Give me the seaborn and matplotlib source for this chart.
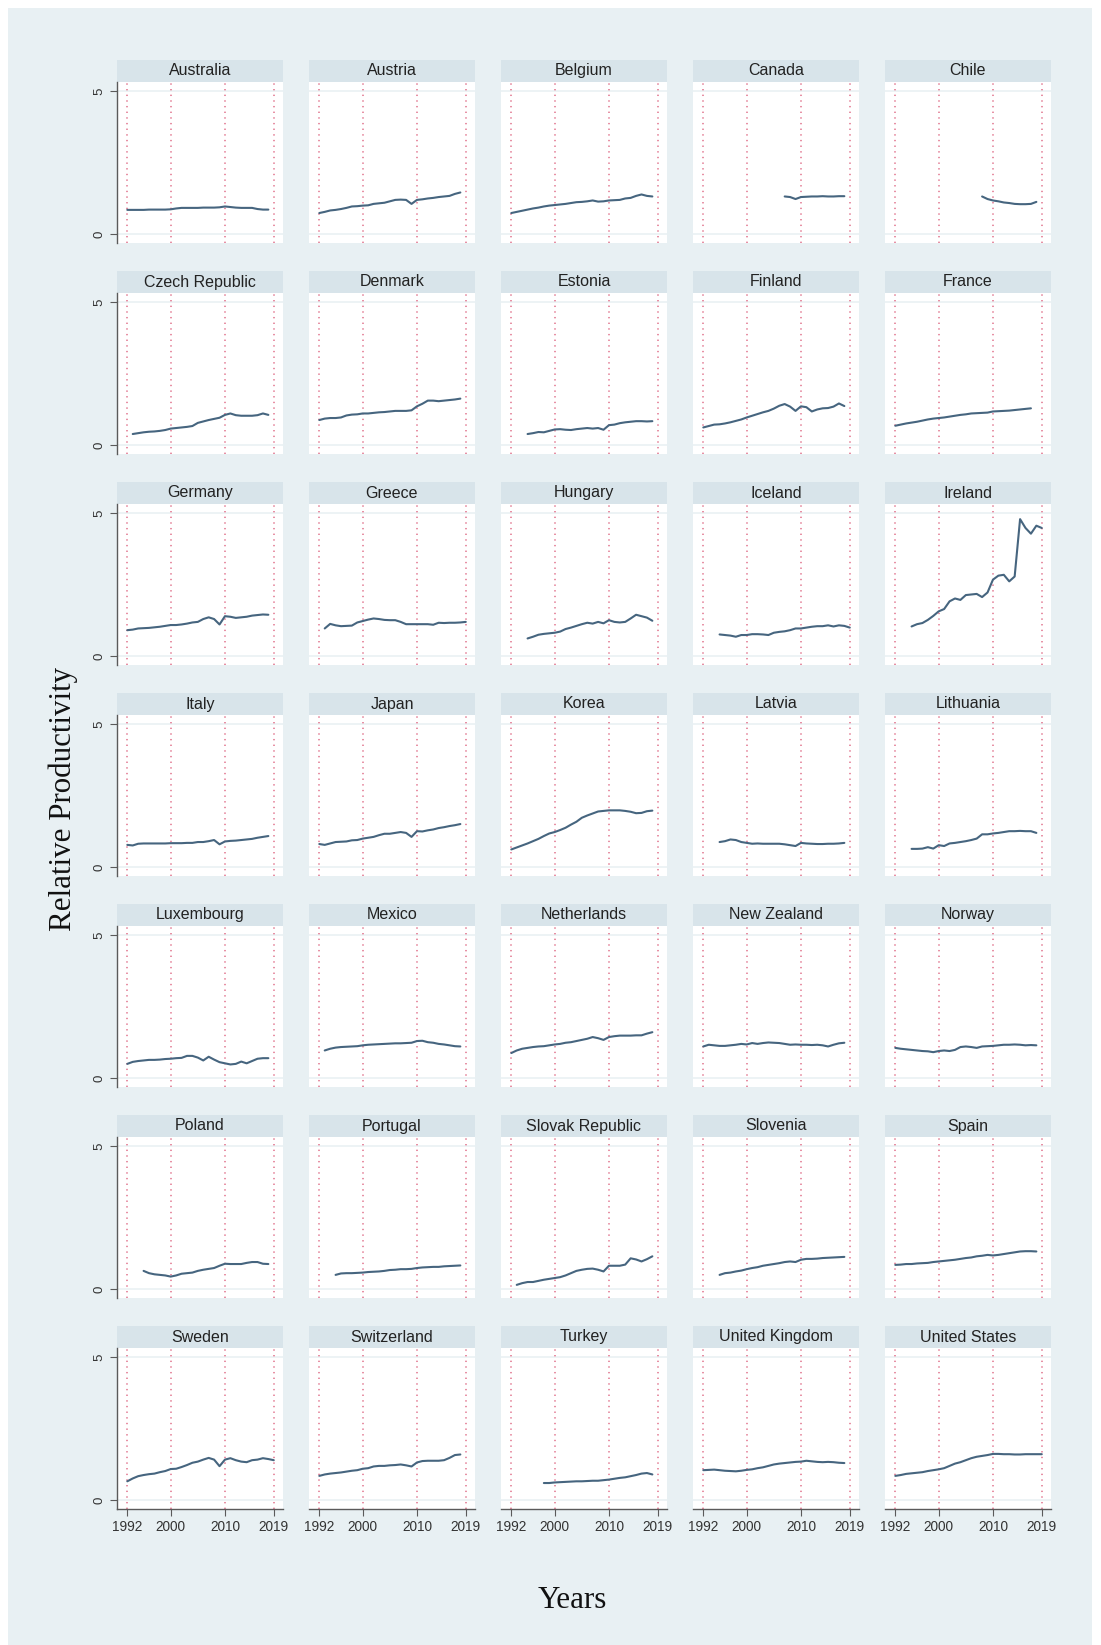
import matplotlib
matplotlib.use("Agg")
import matplotlib.pyplot as plt
from matplotlib.patches import Rectangle
import numpy as np
import pandas as pd
import seaborn as sns

# ---- data: relative productivity by country (first year, annual values) ----
COUNTRIES = ["Australia", "Austria", "Belgium", "Canada", "Chile",
             "Czech Republic", "Denmark", "Estonia", "Finland", "France",
             "Germany", "Greece", "Hungary", "Iceland", "Ireland",
             "Italy", "Japan", "Korea", "Latvia", "Lithuania",
             "Luxembourg", "Mexico", "Netherlands", "New Zealand", "Norway",
             "Poland", "Portugal", "Slovak Republic", "Slovenia", "Spain",
             "Sweden", "Switzerland", "Turkey", "United Kingdom", "United States"]

START_YEAR = [1992, 1992, 1992, 2007, 2008,
              1993, 1992, 1995, 1992, 1992,
              1992, 1993, 1995, 1995, 1995,
              1992, 1992, 1992, 1995, 1995,
              1992, 1993, 1992, 1992, 1992,
              1995, 1995, 1993, 1995, 1992,
              1992, 1992, 1998, 1992, 1992]

AUSTRALIA = [0.85, 0.85, 0.85, 0.85, 0.86, 0.86, 0.86, 0.86, 0.87, 0.90, 0.92, 0.92, 0.92, 0.92,
             0.93, 0.93, 0.93, 0.94, 0.97, 0.95, 0.93, 0.92, 0.92, 0.92, 0.88, 0.86, 0.86]
AUSTRIA = [0.74, 0.78, 0.83, 0.85, 0.88, 0.92, 0.97, 0.98, 1.00, 1.01, 1.06, 1.08, 1.10, 1.15,
           1.20, 1.21, 1.20, 1.06, 1.20, 1.22, 1.25, 1.27, 1.30, 1.32, 1.34, 1.41, 1.46]
BELGIUM = [0.74, 0.78, 0.82, 0.86, 0.90, 0.93, 0.97, 1.00, 1.02, 1.04, 1.06, 1.09, 1.12, 1.13,
           1.15, 1.18, 1.14, 1.15, 1.18, 1.19, 1.20, 1.25, 1.27, 1.34, 1.39, 1.34, 1.32]
CANADA = [1.32, 1.30, 1.23, 1.30, 1.31, 1.32, 1.32, 1.33, 1.32, 1.32, 1.33, 1.33]
CHILE = [1.32, 1.23, 1.18, 1.15, 1.11, 1.09, 1.06, 1.05, 1.05, 1.06, 1.13]
CZECH = [0.39, 0.42, 0.45, 0.47, 0.48, 0.50, 0.53, 0.58, 0.60, 0.62, 0.64, 0.67, 0.78, 0.83,
         0.88, 0.92, 0.96, 1.06, 1.11, 1.05, 1.03, 1.03, 1.03, 1.05, 1.11, 1.06]
DENMARK = [0.88, 0.93, 0.95, 0.95, 0.97, 1.04, 1.07, 1.08, 1.11, 1.11, 1.13, 1.15, 1.16, 1.18,
           1.20, 1.20, 1.20, 1.22, 1.36, 1.45, 1.56, 1.56, 1.54, 1.56, 1.58, 1.60, 1.63]
ESTONIA = [0.39, 0.42, 0.46, 0.45, 0.50, 0.55, 0.56, 0.54, 0.53, 0.56, 0.58, 0.60, 0.58, 0.60,
           0.54, 0.70, 0.72, 0.77, 0.80, 0.82, 0.84, 0.84, 0.83, 0.84]
FINLAND = [0.62, 0.67, 0.72, 0.73, 0.76, 0.80, 0.85, 0.90, 0.97, 1.03, 1.09, 1.15, 1.20, 1.28,
           1.38, 1.44, 1.35, 1.20, 1.36, 1.33, 1.18, 1.25, 1.29, 1.30, 1.35, 1.46, 1.37]
FRANCE = [0.68, 0.72, 0.76, 0.79, 0.82, 0.86, 0.90, 0.93, 0.95, 0.97, 1.00, 1.03, 1.06, 1.08,
          1.11, 1.12, 1.13, 1.14, 1.18, 1.19, 1.20, 1.21, 1.23, 1.25, 1.27, 1.29]
GERMANY = [0.91, 0.93, 0.97, 0.98, 0.99, 1.01, 1.03, 1.06, 1.09, 1.09, 1.11, 1.14, 1.18, 1.20,
           1.30, 1.36, 1.30, 1.11, 1.40, 1.38, 1.34, 1.36, 1.38, 1.42, 1.44, 1.46, 1.45]
GREECE = [0.97, 1.13, 1.08, 1.05, 1.06, 1.07, 1.18, 1.23, 1.28, 1.32, 1.30, 1.27, 1.26, 1.26,
          1.20, 1.12, 1.12, 1.12, 1.12, 1.12, 1.10, 1.17, 1.16, 1.17, 1.17, 1.18, 1.20]
HUNGARY = [0.62, 0.68, 0.75, 0.78, 0.80, 0.82, 0.86, 0.95, 1.00, 1.06, 1.12, 1.17, 1.14, 1.20,
           1.15, 1.26, 1.20, 1.18, 1.20, 1.32, 1.45, 1.40, 1.35, 1.24]
ICELAND = [0.76, 0.74, 0.72, 0.68, 0.74, 0.74, 0.77, 0.77, 0.76, 0.74, 0.82, 0.85, 0.87, 0.91,
           0.97, 0.97, 1.00, 1.03, 1.05, 1.05, 1.08, 1.04, 1.08, 1.06, 1.00]
IRELAND = [1.04, 1.12, 1.16, 1.27, 1.41, 1.57, 1.65, 1.92, 2.02, 1.97, 2.14, 2.16, 2.18, 2.07,
           2.23, 2.68, 2.82, 2.85, 2.62, 2.79, 4.80, 4.49, 4.29, 4.57, 4.49]
ITALY = [0.78, 0.76, 0.82, 0.83, 0.83, 0.83, 0.83, 0.83, 0.84, 0.84, 0.84, 0.85, 0.85, 0.88,
         0.88, 0.91, 0.95, 0.80, 0.90, 0.92, 0.93, 0.95, 0.97, 0.99, 1.03, 1.06, 1.09]
JAPAN = [0.81, 0.78, 0.83, 0.88, 0.89, 0.90, 0.94, 0.95, 1.00, 1.03, 1.06, 1.12, 1.17, 1.17,
         1.20, 1.23, 1.20, 1.06, 1.26, 1.25, 1.29, 1.32, 1.37, 1.40, 1.44, 1.47, 1.51]
KOREA = [0.62, 0.69, 0.76, 0.83, 0.91, 0.99, 1.09, 1.18, 1.23, 1.30, 1.38, 1.49, 1.59, 1.73,
         1.81, 1.88, 1.95, 1.97, 1.99, 1.99, 1.99, 1.97, 1.94, 1.89, 1.90, 1.96, 1.98]
LATVIA = [0.88, 0.91, 0.97, 0.95, 0.88, 0.85, 0.82, 0.83, 0.82, 0.82, 0.82, 0.82, 0.80, 0.77,
          0.74, 0.85, 0.83, 0.82, 0.81, 0.81, 0.82, 0.82, 0.83, 0.85]
LITHUANIA = [0.64, 0.64, 0.65, 0.70, 0.65, 0.77, 0.74, 0.83, 0.85, 0.88, 0.91, 0.95, 1.00, 1.15,
             1.15, 1.18, 1.20, 1.23, 1.26, 1.26, 1.27, 1.26, 1.26, 1.20]
LUXEMBOURG = [0.50, 0.57, 0.60, 0.62, 0.64, 0.64, 0.65, 0.67, 0.68, 0.70, 0.71, 0.78, 0.78, 0.72,
              0.62, 0.75, 0.65, 0.56, 0.52, 0.48, 0.50, 0.58, 0.52, 0.60, 0.68, 0.70, 0.70]
MEXICO = [0.97, 1.03, 1.07, 1.09, 1.10, 1.11, 1.12, 1.15, 1.17, 1.18, 1.19, 1.20, 1.21, 1.22,
          1.22, 1.23, 1.24, 1.30, 1.31, 1.26, 1.24, 1.20, 1.18, 1.15, 1.12, 1.11]
NETHERLANDS = [0.88, 0.97, 1.03, 1.06, 1.09, 1.11, 1.12, 1.15, 1.18, 1.20, 1.24, 1.26, 1.30, 1.34,
               1.38, 1.44, 1.40, 1.34, 1.44, 1.47, 1.49, 1.49, 1.49, 1.50, 1.50, 1.56, 1.61]
NEW_ZEALAND = [1.11, 1.17, 1.15, 1.13, 1.13, 1.15, 1.17, 1.20, 1.18, 1.23, 1.20, 1.23, 1.25, 1.24,
               1.23, 1.20, 1.17, 1.18, 1.17, 1.17, 1.16, 1.17, 1.15, 1.11, 1.17, 1.22, 1.24]
NORWAY = [1.06, 1.03, 1.01, 0.99, 0.97, 0.95, 0.94, 0.91, 0.95, 0.97, 0.95, 0.99, 1.09, 1.11,
          1.09, 1.06, 1.11, 1.12, 1.13, 1.15, 1.17, 1.17, 1.18, 1.17, 1.15, 1.16, 1.15]
POLAND = [0.64, 0.56, 0.52, 0.50, 0.48, 0.44, 0.48, 0.54, 0.56, 0.58, 0.64, 0.68, 0.71, 0.74,
          0.82, 0.89, 0.88, 0.88, 0.88, 0.92, 0.95, 0.95, 0.89, 0.88]
PORTUGAL = [0.50, 0.55, 0.56, 0.56, 0.57, 0.58, 0.60, 0.61, 0.62, 0.64, 0.67, 0.68, 0.70, 0.70,
            0.71, 0.74, 0.76, 0.77, 0.78, 0.78, 0.80, 0.81, 0.82, 0.83]
SLOVAKIA = [0.15, 0.21, 0.25, 0.25, 0.29, 0.33, 0.36, 0.39, 0.42, 0.48, 0.56, 0.64, 0.68, 0.71,
            0.72, 0.68, 0.62, 0.82, 0.82, 0.82, 0.86, 1.08, 1.04, 0.97, 1.05, 1.15]
SLOVENIA = [0.50, 0.56, 0.58, 0.62, 0.65, 0.70, 0.74, 0.77, 0.82, 0.85, 0.88, 0.91, 0.95, 0.97,
            0.95, 1.03, 1.06, 1.06, 1.07, 1.09, 1.10, 1.11, 1.12, 1.13]
SPAIN = [0.85, 0.86, 0.88, 0.88, 0.90, 0.91, 0.92, 0.95, 0.97, 0.99, 1.01, 1.03, 1.06, 1.09,
         1.11, 1.15, 1.17, 1.20, 1.18, 1.20, 1.23, 1.26, 1.29, 1.32, 1.33, 1.33, 1.32]
SWEDEN = [0.66, 0.76, 0.84, 0.88, 0.91, 0.93, 0.98, 1.02, 1.09, 1.10, 1.16, 1.23, 1.31, 1.35,
          1.42, 1.48, 1.42, 1.19, 1.42, 1.47, 1.40, 1.35, 1.33, 1.40, 1.42, 1.47, 1.44, 1.40]
SWITZERLAND = [0.85, 0.90, 0.93, 0.95, 0.97, 1.00, 1.03, 1.05, 1.10, 1.12, 1.18, 1.20, 1.20, 1.22,
               1.23, 1.25, 1.22, 1.18, 1.32, 1.37, 1.38, 1.38, 1.38, 1.40, 1.48, 1.58, 1.60]
TURKEY = [0.60, 0.60, 0.62, 0.63, 0.64, 0.65, 0.66, 0.66, 0.67, 0.68, 0.68, 0.70, 0.72, 0.75,
          0.78, 0.80, 0.84, 0.88, 0.93, 0.95, 0.90]
UNITED_KINGDOM = [1.05, 1.06, 1.07, 1.05, 1.03, 1.02, 1.01, 1.03, 1.06, 1.08, 1.12, 1.15, 1.20, 1.25,
                  1.28, 1.30, 1.32, 1.34, 1.35, 1.38, 1.36, 1.34, 1.33, 1.34, 1.33, 1.31, 1.30]
UNITED_STATES = [0.85, 0.88, 0.92, 0.94, 0.96, 0.98, 1.02, 1.05, 1.08, 1.12, 1.20, 1.28, 1.33, 1.40,
                 1.47, 1.52, 1.55, 1.58, 1.62, 1.62, 1.61, 1.61, 1.60, 1.60, 1.61, 1.61, 1.61, 1.61]

SERIES = [AUSTRALIA, AUSTRIA, BELGIUM, CANADA, CHILE,
          CZECH, DENMARK, ESTONIA, FINLAND, FRANCE,
          GERMANY, GREECE, HUNGARY, ICELAND, IRELAND,
          ITALY, JAPAN, KOREA, LATVIA, LITHUANIA,
          LUXEMBOURG, MEXICO, NETHERLANDS, NEW_ZEALAND, NORWAY,
          POLAND, PORTUGAL, SLOVAKIA, SLOVENIA, SPAIN,
          SWEDEN, SWITZERLAND, TURKEY, UNITED_KINGDOM, UNITED_STATES]

X_TICKS = [1992, 2000, 2010, 2019]
Y_TICKS = [0, 5]

# long-form table for seaborn
rows = []
for name, start, vals in zip(COUNTRIES, START_YEAR, SERIES):
    for k, v in enumerate(vals):
        rows.append((name, start + k, v))
df = pd.DataFrame(rows, columns=["country", "year", "value"])

# ---- style ----
sns.set_theme(style="white")
plt.rcParams["font.family"] = ["Liberation Sans", "DejaVu Sans"]

BG = "#E8F0F3"
STRIP = "#D8E4EA"
LINE = "#46657F"
REF = "#E0708A"
AXIS = "#5A5A5A"

W, H = 1101, 1645
fig = plt.figure(figsize=(W / 100, H / 100), dpi=100)
fig.patch.set_facecolor("white")
fig.add_artist(Rectangle((8 / W, 0), (1092 - 8) / W, 1 - 8 / H,
                         transform=fig.transFigure, facecolor=BG,
                         edgecolor="none", zorder=-10))


def panel(left, top, w, h):
    return fig.add_axes([left / W, 1 - (top + h) / H, w / W, h / H])


PW, PH, STRIP_H = 166, 161, 22
for i, name in enumerate(COUNTRIES):
    r, c = divmod(i, 5)
    ax = panel(117 + 192 * c, 82 + 211 * r, PW, PH)
    ax.set_facecolor("white")
    ax.set_xlim(1990.1, 2020.7)
    ax.set_ylim(-0.31, 5.33)

    for yv in Y_TICKS:
        ax.axhline(yv, color="#EDF3F5", lw=1.4, zorder=0)
    for xv in X_TICKS:
        ax.axvline(xv, color=REF, lw=1.1, ls=(0, (0.9, 2.8)), zorder=1)

    sns.lineplot(data=df[df["country"] == name], x="year", y="value",
                 ax=ax, color=LINE, lw=1.5, legend=False, zorder=3)

    # header strip
    ax.add_patch(Rectangle((0, 1), 1, STRIP_H / PH, transform=ax.transAxes,
                           facecolor=STRIP, edgecolor="none", clip_on=False))
    ax.text(0.5, 1 + (STRIP_H / 2) / PH, name, transform=ax.transAxes,
            ha="center", va="center", fontsize=11.5, color="#222222")

    for s in ax.spines.values():
        s.set_visible(False)
    ax.set_xlabel("")
    ax.set_ylabel("")

    if c == 0:
        ax.spines["left"].set_visible(True)
        ax.spines["left"].set_color(AXIS)
        ax.spines["left"].set_linewidth(1.0)
        ax.set_yticks(Y_TICKS)
        ax.set_yticklabels([str(t) for t in Y_TICKS], rotation=90,
                           va="center", fontsize=9.5, color="#333333")
        ax.tick_params(axis="y", length=5, width=0.8, color=AXIS, pad=3, left=True)
    else:
        ax.set_yticks([])

    if r == 6:
        ax.spines["bottom"].set_visible(True)
        ax.spines["bottom"].set_color(AXIS)
        ax.spines["bottom"].set_linewidth(1.0)
        ax.set_xticks(X_TICKS)
        ax.set_xticklabels([str(t) for t in X_TICKS], fontsize=9.8, color="#333333")
        ax.tick_params(axis="x", length=5, width=0.8, color=AXIS, pad=3, bottom=True)
    else:
        ax.set_xticks([])

fig.text(63 / W, 1 - 799 / H, "Relative Productivity", rotation=90,
         ha="center", va="center", fontsize=22.3,
         family=["Liberation Serif", "DejaVu Serif"], color="#111111")
fig.text(572 / W, 1 - 1601 / H, "Years", ha="center", va="center",
         fontsize=22.3, family=["Liberation Serif", "DejaVu Serif"], color="#111111")

fig.savefig("out.png", dpi=100, facecolor=fig.get_facecolor())
